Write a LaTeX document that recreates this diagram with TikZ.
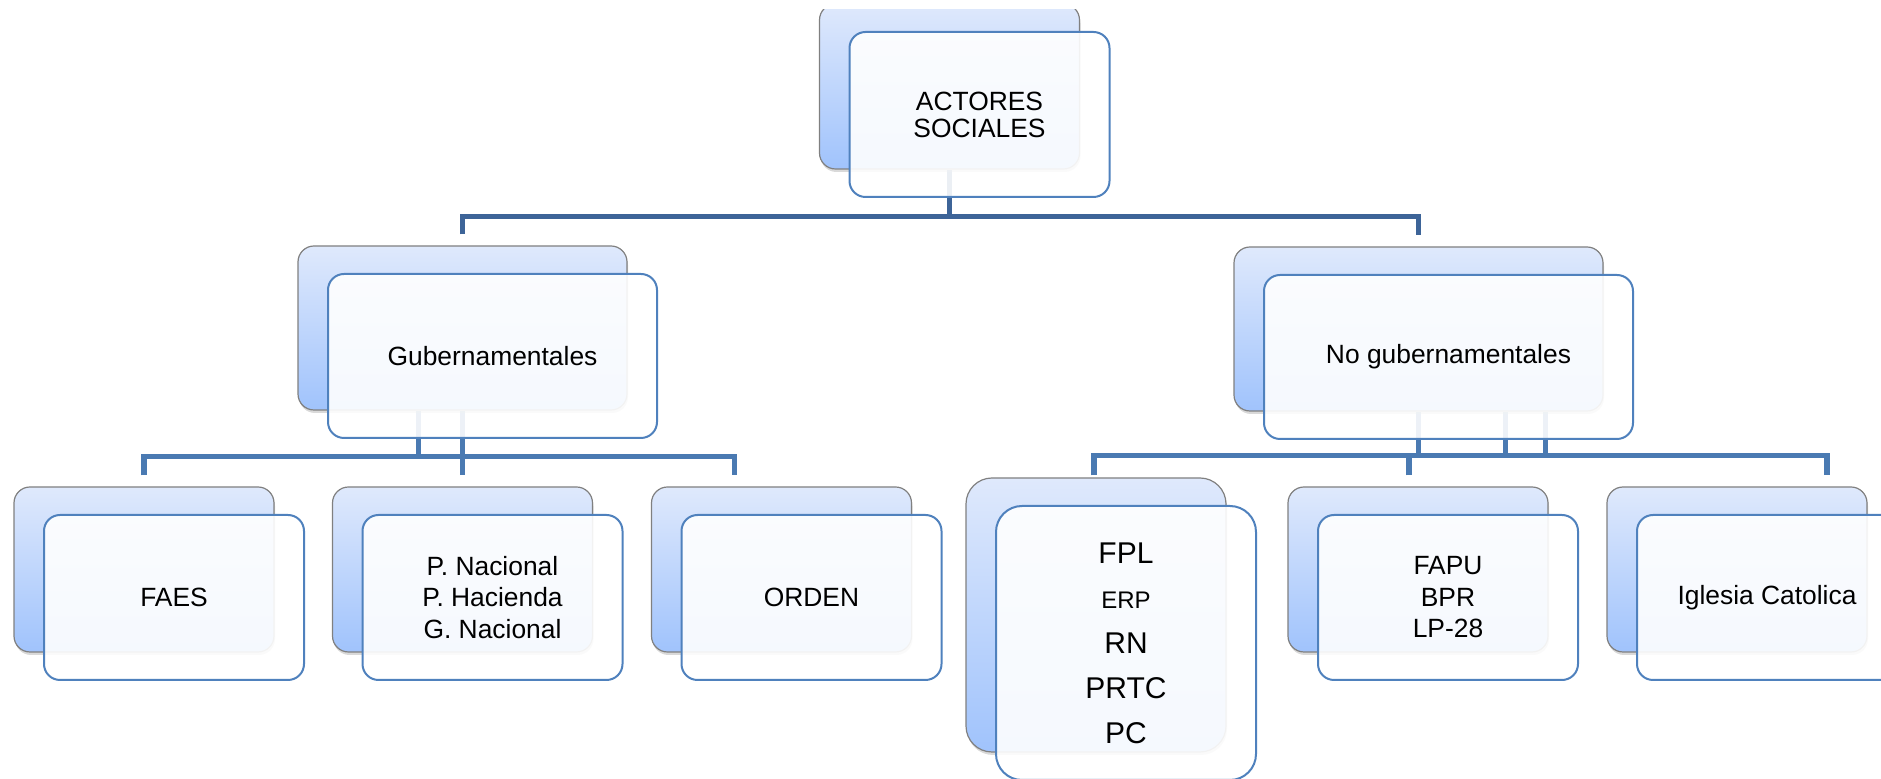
\documentclass[tikz,border=0pt]{standalone}
\usepackage{fontspec}
\setmainfont{Liberation Sans}
\usetikzlibrary{positioning,backgrounds,shadows}
\definecolor{boxtop}{RGB}{223,233,252}
\definecolor{boxbot}{RGB}{160,195,252}
\definecolor{boxline}{RGB}{79,129,189}
\definecolor{busdark}{RGB}{61,100,152}
\definecolor{buslight}{RGB}{74,122,178}

\begin{document}
\begin{tikzpicture}[
    % GLOBAL CFG
    x=0.5pt, y=-0.5pt,
    font=\fontsize{13.2}{15.75}\selectfont,
    % Styles
    backbox/.style={% shaded box behind
        rectangle,
        rounded corners=8pt,
        draw=gray,
        line width=0.6pt,
        top color=boxtop,
        bottom color=boxbot,
        drop shadow={opacity=0.3, shadow xshift=0.5pt, shadow yshift=-1.5pt},
        minimum width=130pt,
        minimum height=82.5pt,
        inner sep=0pt,
        },
    frontbox/.style={% white box in front, holds the text
        rectangle,
        rounded corners=8pt,
        draw=boxline,
        line width=1pt,
        fill=white,
        fill opacity=0.9,
        text opacity=1,
        minimum width=130pt,
        minimum height=82.5pt,
        align=center,
        inner sep=2pt,
        },
    bus/.style={% connectors
        draw=buslight,
        line width=2.8pt,
        },
    ]

    \useasboundingbox (0,0) rectangle (1881,779);

    % Top level
    \begin{scope}
        \clip (0,10) rectangle (1881,779);
        \node [backbox] (actB) at (949.5,86.5) {};
    \end{scope}
    \node [frontbox, font=\fontsize{13.2}{13.5}\selectfont] (actF) at ([shift={(30,28)}]actB.center) {ACTORES\\SOCIALES};

    % Second level
    \node [backbox, minimum width=164.5pt, minimum height=82pt] (gubB) at (462.5,328) {};
    \node [frontbox, minimum width=164.5pt, minimum height=82pt] (gubF) at ([shift={(30,28)}]gubB.center) {Gubernamentales};
    \node [backbox, minimum width=184.5pt, minimum height=82pt] (nogB) at (1418.5,329) {};
    \node [frontbox, minimum width=184.5pt, minimum height=82pt] (nogF) at ([shift={(30,28)}]nogB.center) {No gubernamentales};

    % Third level, left
    \node [backbox] (faesB) at (144,569.5) {};
    \node [frontbox] (faesF) at ([shift={(30,28)}]faesB.center) {FAES};
    \node [backbox] (pnB) at (462.5,569.5) {};
    \node [frontbox] (pnF) at ([shift={(30,28)}]pnB.center) {P. Nacional\\P. Hacienda\\G. Nacional};
    \node [backbox] (ordB) at (781.5,569.5) {};
    \node [frontbox] (ordF) at ([shift={(30,28)}]ordB.center) {ORDEN};

    % Third level, right
    \node [backbox, minimum height=137pt, rounded corners=13pt] (fplB) at (1096,615) {};
    \node [frontbox, minimum height=137pt, rounded corners=13pt, font=\fontsize{15}{22.5}\selectfont] (fplF) at ([shift={(30,28)}]fplB.center)
        {FPL\\{\fontsize{12}{14}\selectfont ERP}\\RN\\PRTC\\PC};
    \node [backbox] (fapuB) at (1418,569.5) {};
    \node [frontbox] (fapuF) at ([shift={(30,28)}]fapuB.center) {FAPU\\BPR\\LP-28};
    \node [backbox] (iglB) at (1737,569.5) {};
    \node [frontbox] (iglF) at ([shift={(30,28)}]iglB.center) {Iglesia Catolica};

    % Connectors behind the boxes
    \begin{scope}[on background layer]
        % top bus
        \draw [bus, draw=busdark] (actB.south) -- ++(0,47) coordinate (jA);
        \draw [bus, draw=busdark] ([shift={(0,-11)}]gubB.north) |- (jA) -| ([shift={(0,-11)}]nogB.north);

        % left bus
        \coordinate (jB) at ([shift={(0,46)}]gubB.south);
        \draw [bus] ([shift={(0,-11)}]faesB.north) |- (jB) -| ([shift={(-47,-11)}]ordB.north);
        \draw [bus] (jB) -- ([shift={(0,-11)}]pnB.north);
        \foreach \dx in {-44,0}
            \draw [bus] ([shift={(\dx,0)}]gubB.south) -- ([shift={(\dx,0)}]jB);

        % right bus
        \coordinate (jC) at ([shift={(0,44)}]nogB.south);
        \draw [bus] ([shift={(-2,-2)}]fplB.north) |- (jC) -| ([shift={(90,-11)}]iglB.north);
        \draw [bus] ([shift={(-9,-11)}]fapuB.north) -- ++(0,-21);
        \foreach \dx in {0,87,127}
            \draw [bus] ([shift={(\dx,0)}]nogB.south) -- ([shift={(\dx,0)}]jC);
    \end{scope}

\end{tikzpicture}
\end{document}
